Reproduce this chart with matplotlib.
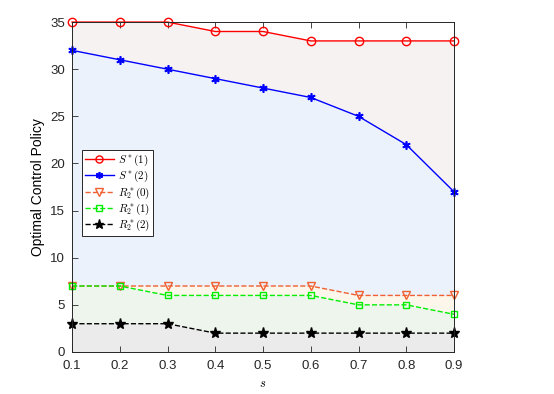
import matplotlib
matplotlib.use("Agg")
import matplotlib.pyplot as plt

plt.rcParams['font.family'] = ['Liberation Sans', 'DejaVu Sans']
plt.rcParams['mathtext.fontset'] = 'cm'

s = [0.1, 0.2, 0.3, 0.4, 0.5, 0.6, 0.7, 0.8, 0.9]
s_star_1 = [35, 35, 35, 34, 34, 33, 33, 33, 33]
s_star_2 = [32, 31, 30, 29, 28, 27, 25, 22, 17]
r_star_0 = [7, 7, 7, 7, 7, 7, 6, 6, 6]
r_star_1 = [7, 7, 6, 6, 6, 6, 5, 5, 4]
r_star_2 = [3, 3, 3, 2, 2, 2, 2, 2, 2]

fig = plt.figure(figsize=(5.54, 3.94), dpi=100)
ax = fig.add_axes([0.130, 0.1066, 0.6895, 0.8374])

# shaded bands between curves
ax.fill_between(s, s_star_2, s_star_1, color='#f7f2f2', lw=0)
ax.fill_between(s, r_star_0, s_star_2, color='#ebf2fb', lw=0)
ax.fill_between(s, r_star_1, r_star_0, color='#fdf6ea', lw=0)
ax.fill_between(s, r_star_2, r_star_1, color='#eef5ec', lw=0)
ax.fill_between(s, 0, r_star_2, color='#ebebeb', lw=0)

ax.plot(s, s_star_1, '-', color='#ff0000', lw=1.0, marker='o', ms=6,
        mfc='none', mec='#ff0000', mew=1.0, label=r'$S^*(1)$', clip_on=False)
ax.plot(s, s_star_2, '-', color='#0000ff', lw=1.0, marker=(6, 2, 0), ms=6,
        mec='#0000ff', mew=1.2, label=r'$S^*(2)$', clip_on=False)
ax.plot(s, r_star_0, '--', color='#f06030', lw=1.0, marker='v', ms=6,
        mfc='none', mec='#f06030', mew=1.0, label=r'$R_2^*(0)$', clip_on=False)
ax.plot(s, r_star_1, '--', color='#00ee00', lw=1.0, marker='s', ms=5,
        mfc='none', mec='#00ee00', mew=1.0, label=r'$R_2^*(1)$', clip_on=False)
ax.plot(s, r_star_2, '--', color='#000000', lw=1.0, marker='*', ms=8,
        mfc='#000000', mec='#000000', label=r'$R_2^*(2)$', clip_on=False)

ax.set_xlim(0.1, 0.9)
ax.set_ylim(0, 35)
ax.set_xticks(s)
ax.set_yticks([0, 5, 10, 15, 20, 25, 30, 35])
ax.tick_params(direction='in', top=True, right=False, labelsize=9.5,
               length=4, width=0.6, colors='#262626')
ax.tick_params(axis='x', pad=6)
ax.tick_params(axis='y', pad=5)
for sp in ax.spines.values():
    sp.set_linewidth(0.7)
    sp.set_color('#262626')

ax.set_ylabel('Optimal Control Policy', fontsize=10)
ax.set_xlabel(r'$s$', fontsize=9)

leg = ax.legend(loc='upper left', bbox_to_anchor=(0.012, 0.63), fontsize=8,
                fancybox=False, edgecolor='#262626', framealpha=1,
                handlelength=2.6, borderpad=0.25, labelspacing=0.1,
                handletextpad=0.4, markerscale=0.85)
leg.get_frame().set_linewidth(0.7)

fig.savefig('out.png', dpi=100)
